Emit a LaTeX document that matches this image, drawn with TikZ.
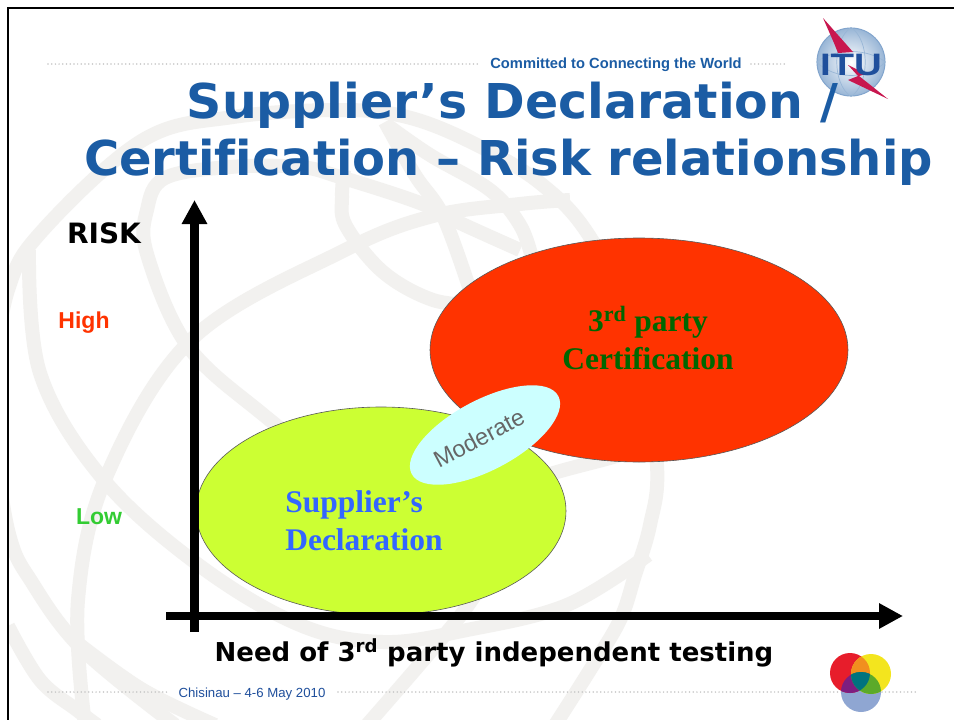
\documentclass[tikz,border=0pt]{standalone}
\usepackage{fontspec}
\setmainfont{Liberation Sans}
\newfontfamily\titlefont[Ligatures=NoCommon]{DejaVu Sans}
\newfontfamily\serifbold{Liberation Serif}
\usetikzlibrary{shapes.geometric,arrows.meta}
\definecolor{ituBlue}{HTML}{1B5CA4}
\definecolor{footBlue}{HTML}{1F4F9C}
\definecolor{wm}{HTML}{F2F1EF}
\definecolor{dotgrey}{HTML}{C6C6C6}
\definecolor{redfill}{HTML}{FF3300}
\definecolor{limefill}{HTML}{CCFF33}
\definecolor{modfill}{HTML}{CCFFFF}
\definecolor{crim}{HTML}{C8174F}
\definecolor{certgreen}{HTML}{006600}
\definecolor{declblue}{HTML}{3366FF}
\definecolor{lowgreen}{HTML}{33CC33}
\tikzset{
  x=1pt,y=-1pt,
  wmline/.style={wm,line width=14pt},
  dotline/.style={dotgrey,line width=1.7pt,line cap=round,dash pattern=on 0pt off 3.7pt},
  axis/.style={line width=8.5pt,black,-{Triangle[length=24pt,width=24pt]}},
  blob/.style={ellipse,draw=black!65,line width=.6pt,inner sep=0pt},
  titletext/.style={font=\titlefont\bfseries\fontsize{48}{50}\selectfont,text=ituBlue,anchor=base,inner sep=0pt},
  lab/.style={font=\bfseries\fontsize{23}{25}\selectfont,inner sep=0pt},
  bigserif/.style={font=\serifbold\bfseries\fontsize{31.5}{38}\selectfont,align=left,inner sep=0pt},
  gridline/.style={ituBlue!45,line width=.7pt}
}
\begin{document}
\begin{tikzpicture}
\useasboundingbox (0,0) rectangle (954,720);
\fill[white] (0,0) rectangle (954,720);
% watermark
\begin{scope}
\clip (8,8) rectangle (954,720);
% outer ring
\draw[wmline] plot[smooth,tension=.6] coordinates {(-12,400) (8,290) (43,230) (143,140) (233,117) (340,110) (407,117) (473,143) (540,183) (590,237) (640,340) (657,465) (650,525) (635,575) (620,620) (590,670) (555,725)};
\draw[wmline] plot[smooth,tension=.6] coordinates {(-12,400) (8,530) (33,584) (83,650) (175,725)};
% sweep from upper left to bottom right
\draw[wmline] plot[smooth,tension=.6] coordinates {(29,250) (40,373) (103,479) (200,566) (300,625) (383,642) (467,630) (567,605) (648,555)};
% long arc to the bottom
\draw[wmline] plot[smooth,tension=.6] coordinates {(570,200) (520,204) (433,216) (343,251) (193,338) (107,475) (78,600) (85,725)};
% smile and top arc
\draw[wmline] plot[smooth,tension=.6] coordinates {(520,250) (460,223) (420,203) (340,177) (300,167) (230,167) (165,178) (147,210) (147,254) (187,345) (260,412) (340,470) (420,495) (500,490) (557,472) (620,455) (660,440)};
% small loop
\draw[wmline] plot[smooth,tension=.6] coordinates {(344,170) (342,197) (346,226) (383,272) (433,300) (480,305)};
% meridians
\draw[wmline] plot[smooth,tension=.6] coordinates {(385,122) (415,175) (443,216) (470,290)};
\draw[wmline] plot[smooth,tension=.6] coordinates {(387,125) (430,155) (490,190) (520,225) (532,258)};
% lower left
\draw[wmline] plot[smooth,tension=.6] coordinates {(8,626) (40,680) (77,710) (97,725)};
\draw[wmline] plot[smooth,tension=.6] coordinates {(80,645) (143,690) (215,725)};
% lower centre
\draw[wmline] plot[smooth,tension=.6] coordinates {(490,570) (457,620) (367,725)};
\end{scope}
\draw[line width=2.5pt,black] (8,720) -- (8,8) -- (954,8);
% header
\draw[dotline] (48,64) -- (480,64);
\draw[dotline] (751,64) -- (787,64);
\node[font=\bfseries\fontsize{14.7}{16}\selectfont,text=ituBlue,inner sep=0pt] (motto) at (616,65) {Committed to Connecting the World};
% ITU logo
\node[circle,minimum size=68pt,inner sep=0pt,draw=ituBlue!55,line width=1pt,inner color=white,outer color=ituBlue!45] (globe) at (851,62) {};
\draw[gridline] (globe.north) .. controls (832,40) and (832,84) .. (globe.south);
\draw[gridline] (globe.north) .. controls (870,40) and (870,84) .. (globe.south);
\draw[gridline] (globe.west) .. controls (835,48) and (867,48) .. (globe.east);
\draw[gridline] (globe.west) .. controls (835,80) and (867,80) .. (globe.east);
\fill[crim] (823,18) -- (853,52) -- (838,53) -- (834,43) -- cycle;
\fill[crim] (848,65) -- (866,74) -- (859,76) -- (888,99) -- (848,80) -- (858,76) -- cycle;
\node[font=\bfseries\fontsize{31}{31}\selectfont,text=footBlue,inner sep=0pt,xscale=1.24,transform shape] (itu) at (851,65) {ITU};
% title
\node[titletext,xscale=1.02,transform shape] (t1) at (512.5,118) {Supplier’s Declaration /};
\node[titletext] (t2) at (508.5,175) {Certification – Risk relationship};
% ellipses
\node[blob,fill=redfill,minimum width=418pt,minimum height=224pt] (red) at (639,350) {};
\node[blob,fill=limefill,minimum width=370pt,minimum height=208pt] (lime) at (381,511) {};
\node[ellipse,fill=modfill,minimum width=166pt,minimum height=70pt,rotate=28,inner sep=0pt] (mod) at (485,435) {};
\node[font=\fontsize{23.5}{25}\selectfont,text=black!60,rotate=28,inner sep=0pt] (modt) at (479,438) {Moderate};
\node[bigserif,text=certgreen,align=center] (cert) at (648,338) {3\textsuperscript{rd} party\\Certification};
\node[bigserif,text=declblue] (sd) at (364,521) {Supplier’s\\Declaration};
% axes
\coordinate (o) at (194.5,632);
\coordinate (ytop) at (194.5,200);
\coordinate (xl) at (166,616);
\coordinate (xr) at (903,616);
\draw[axis] (o) -- (ytop);
\draw[axis] (xl) -- (xr);
% labels
\node[inner sep=0pt,font=\titlefont\bfseries\fontsize{28}{30}\selectfont] (risk) at (104,233) {RISK};
\node[lab,text=redfill] (high) at (84,323) {High};
\node[lab,text=lowgreen] (low) at (99,517) {Low};
\node[inner sep=0pt,font=\titlefont\bfseries\fontsize{26}{28}\selectfont] (need) at (494,653) {Need of 3\textsuperscript{rd} party independent testing};
% footer
\draw[dotline] (48,692) -- (168,692);
\draw[dotline] (338,692) -- (918,692);
\node[inner sep=0pt,font=\fontsize{13.2}{15}\selectfont,text=footBlue] (foot) at (252,694) {Chisinau – 4-6 May 2010};
% colour logo
\definecolor{lgred}{HTML}{E71D2B}
\definecolor{lgyel}{HTML}{F3E51E}
\definecolor{lgblu}{HTML}{8FA6D2}
\definecolor{lgora}{HTML}{F18F1F}
\definecolor{lgpur}{HTML}{7E1E80}
\definecolor{lggre}{HTML}{5BAA2A}
\definecolor{lgtea}{HTML}{00737F}
\fill[lgblu] (861,692) circle (20);
\fill[lgred] (850,673) circle (20);
\fill[lgyel] (871,674) circle (20);
\begin{scope}
\clip (850,673) circle (20);
\fill[lgora] (871,674) circle (20);
\fill[lgpur] (861,692) circle (20);
\end{scope}
\begin{scope}
\clip (871,674) circle (20);
\fill[lggre] (861,692) circle (20);
\clip (850,673) circle (20);
\fill[lgtea] (861,692) circle (20);
\end{scope}
\end{tikzpicture}
\end{document}
